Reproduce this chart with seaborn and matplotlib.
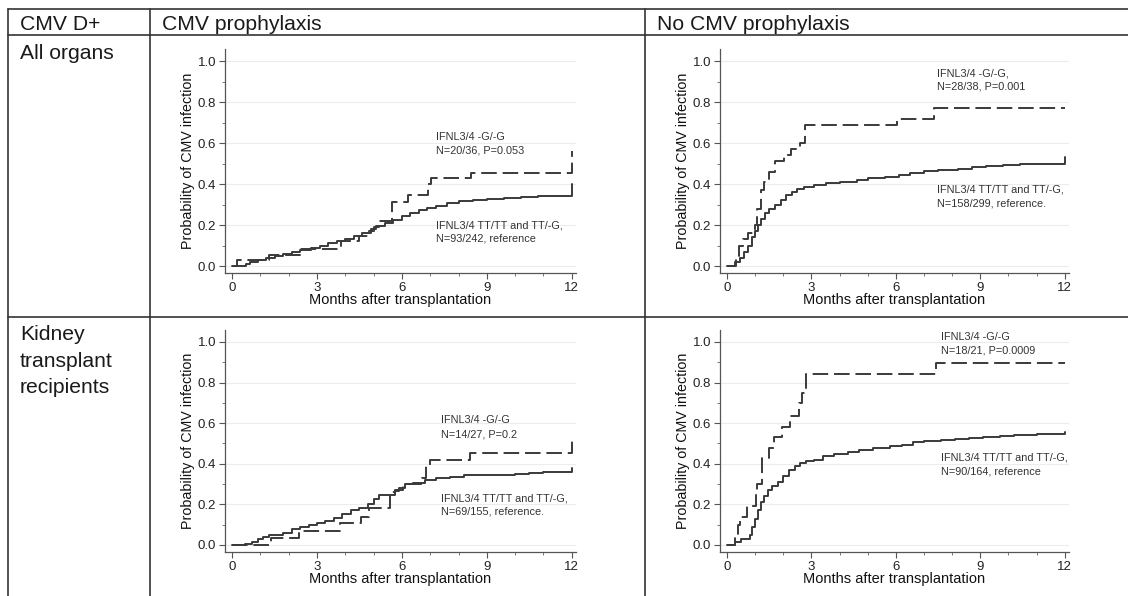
import numpy as np
import pandas as pd
import matplotlib
matplotlib.use('Agg')
import matplotlib.pyplot as plt
from matplotlib.lines import Line2D
from matplotlib.ticker import MultipleLocator
import seaborn as sns

# ── Data ─────────────────────────────────────────────────────────────────────

# CMV prophylaxis, all organs
pro_all_ref_t = [0, 0.5, 0.65, 0.9, 1.2, 1.5, 1.8, 2.1, 2.4, 2.8, 3.1, 3.4, 3.7, 4.0, 4.3,
                 4.6, 4.9, 5.1, 5.4, 5.7, 6.0, 6.3, 6.6, 6.9, 7.2, 7.6, 8.0, 8.5, 9.0, 9.6,
                 10.2, 10.8, 12.0]
pro_all_ref_p = [0, 0.01, 0.02, 0.03, 0.04, 0.05, 0.06, 0.07, 0.08, 0.09, 0.10, 0.11, 0.12,
                 0.13, 0.145, 0.16, 0.18, 0.195, 0.21, 0.225, 0.245, 0.26, 0.275, 0.285,
                 0.295, 0.305, 0.315, 0.32, 0.325, 0.33, 0.335, 0.34, 0.40]
pro_all_gg_t = [0, 0.18, 1.3, 2.4, 3.85, 4.5, 4.85, 5.0, 5.2, 5.66, 6.2, 6.92, 7.03, 8.45, 12.0]
pro_all_gg_p = [0, 0.03, 0.055, 0.085, 0.12, 0.145, 0.17, 0.19, 0.22, 0.31, 0.345, 0.40,
                0.43, 0.455, 0.56]

# No CMV prophylaxis, all organs
nop_all_ref_t = [0, 0.3, 0.45, 0.6, 0.75, 0.9, 1.0, 1.1, 1.2, 1.35, 1.5, 1.7, 1.9, 2.1, 2.3,
                 2.5, 2.75, 3.1, 3.5, 4.0, 4.6, 5.0, 5.6, 6.1, 6.5, 7.0, 7.5, 8.2, 8.7, 9.2,
                 9.8, 10.4, 12.0]
nop_all_ref_p = [0, 0.02, 0.04, 0.07, 0.10, 0.14, 0.17, 0.20, 0.23, 0.26, 0.28, 0.30, 0.32,
                 0.345, 0.36, 0.375, 0.385, 0.395, 0.405, 0.41, 0.42, 0.43, 0.435, 0.445,
                 0.455, 0.465, 0.47, 0.475, 0.485, 0.49, 0.495, 0.50, 0.53]
nop_all_gg_t = [0, 0.33, 0.44, 0.55, 0.76, 1.0, 1.08, 1.2, 1.31, 1.5, 1.69, 2.02, 2.29, 2.6,
                2.78, 6.03, 7.35, 12.0]
nop_all_gg_p = [0, 0.05, 0.10, 0.13, 0.16, 0.20, 0.28, 0.37, 0.41, 0.46, 0.51, 0.54, 0.57,
                0.60, 0.69, 0.715, 0.77, 0.77]

# CMV prophylaxis, kidney
pro_kid_ref_t = [0, 0.45, 0.7, 0.9, 1.1, 1.3, 1.8, 2.1, 2.4, 2.7, 3.0, 3.3, 3.6, 3.9, 4.2,
                 4.5, 4.8, 5.0, 5.2, 5.75, 5.9, 6.1, 6.4, 6.8, 7.2, 7.7, 8.2, 10.0, 10.5,
                 11.0, 12.0]
pro_kid_ref_p = [0, 0.005, 0.015, 0.03, 0.04, 0.05, 0.06, 0.08, 0.09, 0.10, 0.11, 0.12,
                 0.135, 0.155, 0.17, 0.18, 0.20, 0.225, 0.245, 0.265, 0.28, 0.30, 0.305,
                 0.32, 0.33, 0.335, 0.345, 0.35, 0.355, 0.36, 0.38]
pro_kid_gg_t = [0, 1.38, 2.37, 3.8, 4.55, 4.85, 5.57, 5.75, 6.05, 6.7, 6.85, 7.0, 8.42, 12.0]
pro_kid_gg_p = [0, 0.035, 0.07, 0.11, 0.14, 0.18, 0.26, 0.27, 0.30, 0.33, 0.39, 0.42,
                0.455, 0.53]

# No CMV prophylaxis, kidney
nop_kid_ref_t = [0, 0.3, 0.5, 0.8, 0.9, 1.0, 1.1, 1.2, 1.3, 1.45, 1.6, 1.8, 2.0, 2.2, 2.4,
                 2.6, 2.8, 3.1, 3.4, 3.8, 4.3, 4.7, 5.2, 5.8, 6.2, 6.6, 7.0, 7.6, 8.1, 8.6,
                 9.1, 9.7, 10.2, 11.0, 12.0]
nop_kid_ref_p = [0, 0.015, 0.03, 0.05, 0.09, 0.13, 0.17, 0.21, 0.24, 0.27, 0.29, 0.31, 0.34,
                 0.37, 0.39, 0.405, 0.415, 0.42, 0.44, 0.45, 0.46, 0.47, 0.48, 0.49, 0.495,
                 0.505, 0.51, 0.515, 0.52, 0.525, 0.53, 0.535, 0.54, 0.545, 0.555]
nop_kid_gg_t = [0, 0.3, 0.38, 0.47, 0.71, 1.02, 1.07, 1.25, 1.5, 1.66, 1.96, 2.25, 2.55,
                2.67, 2.79, 7.41, 12.0]
nop_kid_gg_p = [0, 0.05, 0.10, 0.14, 0.19, 0.25, 0.30, 0.43, 0.48, 0.53, 0.58, 0.635, 0.70,
                0.75, 0.84, 0.895, 0.895]

col_headers = ['CMV D+', 'CMV prophylaxis', 'No CMV prophylaxis']
row_labels = ['All organs', 'Kidney\ntransplant\nrecipients']

gg_labels = ['IFNL3/4 -G/-G\nN=20/36, P=0.053', 'IFNL3/4 -G/-G,\nN=28/38, P=0.001',
             'IFNL3/4 -G/-G\nN=14/27, P=0.2', 'IFNL3/4 -G/-G\nN=18/21, P=0.0009']
ref_labels = ['IFNL3/4 TT/TT and TT/-G,\nN=93/242, reference',
              'IFNL3/4 TT/TT and TT/-G,\nN=158/299, reference.',
              'IFNL3/4 TT/TT and TT/-G,\nN=69/155, reference.',
              'IFNL3/4 TT/TT and TT/-G,\nN=90/164, reference']
gg_label_pos = [(7.2, 0.595), (7.45, 0.907), (7.37, 0.58), (7.6, 0.99)]
ref_label_pos = [(7.2, 0.166), (7.45, 0.34), (7.37, 0.197), (7.6, 0.397)]

panels = [
    (pro_all_ref_t, pro_all_ref_p, pro_all_gg_t, pro_all_gg_p),
    (nop_all_ref_t, nop_all_ref_p, nop_all_gg_t, nop_all_gg_p),
    (pro_kid_ref_t, pro_kid_ref_p, pro_kid_gg_t, pro_kid_gg_p),
    (nop_kid_ref_t, nop_kid_ref_p, nop_kid_gg_t, nop_kid_gg_p),
]

# ── Figure ───────────────────────────────────────────────────────────────────

W, H = 1128, 596
sns.set_theme(style='white')
plt.rcParams['font.family'] = ['Liberation Sans', 'DejaVu Sans']

fig = plt.figure(figsize=(W / 100, H / 100), dpi=100)
fig.patch.set_facecolor('white')

LINE_C = '#333333'
CURVE_C = '#3a3a3a'
TEXT_C = '#1a1a1a'


def fx(px):
    return px / W


def fy(py):
    return 1 - py / H


def hline(y, x0, x1):
    fig.add_artist(Line2D([fx(x0), fx(x1)], [fy(y), fy(y)], color=LINE_C, lw=1.2))


def vline(x, y0, y1):
    fig.add_artist(Line2D([fx(x), fx(x)], [fy(y0), fy(y1)], color=LINE_C, lw=1.2))


# table grid
hline(9, 8, W)
hline(35, 8, W)
hline(317, 8, W)
vline(8, 9, H)
vline(150, 9, H)
vline(645, 9, H)

for x, txt in zip([20, 162, 657], col_headers):
    fig.text(fx(x), fy(30.5), txt, fontsize=15.2, color=TEXT_C, va='baseline', ha='left')
fig.text(fx(20), fy(59), row_labels[0], fontsize=15.2, color=TEXT_C, va='baseline', ha='left')
for k, line in enumerate(row_labels[1].split('\n')):
    fig.text(fx(20), fy(340 + 26.7 * k), line, fontsize=15.2, color=TEXT_C,
             va='baseline', ha='left')

# axes boxes in pixels: (left, top, right, bottom)
boxes = [(225, 48.7, 576, 273.2), (720, 48.7, 1069, 273.2),
         (225, 329.8, 576, 552.1), (720, 329.8, 1069, 552.1)]

for i, (box, (rt, rp, gt, gp)) in enumerate(zip(boxes, panels)):
    l, t, r, b = box
    ax = fig.add_axes([fx(l), fy(b), fx(r) - fx(l), fy(t) - fy(b)])
    ax.set_facecolor('white')

    df = pd.concat([
        pd.DataFrame({'month': rt, 'prob': rp, 'group': 'ref'}),
        pd.DataFrame({'month': gt, 'prob': gp, 'group': 'gg'}),
    ], ignore_index=True)
    sns.lineplot(data=df, x='month', y='prob', style='group',
                 dashes={'ref': '', 'gg': (8, 3)}, color=CURVE_C, lw=1.4,
                 drawstyle='steps-post', estimator=None, sort=False, legend=False, ax=ax)

    ax.set_xlim(-0.25, 12.15)
    ax.set_ylim(-0.035, 1.06)
    ax.set_xticks([0, 3, 6, 9, 12])
    ax.set_yticks([0, 0.2, 0.4, 0.6, 0.8, 1.0])
    ax.set_yticklabels([f'{v:.1f}' for v in [0, 0.2, 0.4, 0.6, 0.8, 1.0]])
    ax.xaxis.set_minor_locator(MultipleLocator(1))
    ax.yaxis.set_minor_locator(MultipleLocator(0.1))
    ax.tick_params(which='major', direction='out', length=4, width=0.8, color='#555555',
                   labelsize=9.5, labelcolor='#222222', pad=2.5, bottom=True, left=True)
    ax.tick_params(which='minor', direction='out', length=2.5, width=0.7, color='#777777',
                   bottom=True, left=True)
    for s in ['top', 'right']:
        ax.spines[s].set_visible(False)
    for s in ['left', 'bottom']:
        ax.spines[s].set_color('#555555')
        ax.spines[s].set_linewidth(0.9)
    ax.yaxis.grid(True, which='major', color='#ececec', lw=0.8)
    ax.set_axisbelow(True)

    ax.set_xlabel('Months after transplantation', fontsize=10.5, color='#111111', labelpad=-1)
    ax.set_ylabel('Probability of CMV infection', fontsize=10.3, color='#111111', labelpad=2)

    gx, gy = gg_label_pos[i]
    ax.text(gx, gy, gg_labels[i], fontsize=7.8, color='#333333', va='center', ha='left',
            linespacing=1.45)
    rx, ry = ref_label_pos[i]
    ax.text(rx, ry, ref_labels[i], fontsize=7.8, color='#333333', va='center', ha='left',
            linespacing=1.45)

fig.savefig('out.png', dpi=100, facecolor='white')
